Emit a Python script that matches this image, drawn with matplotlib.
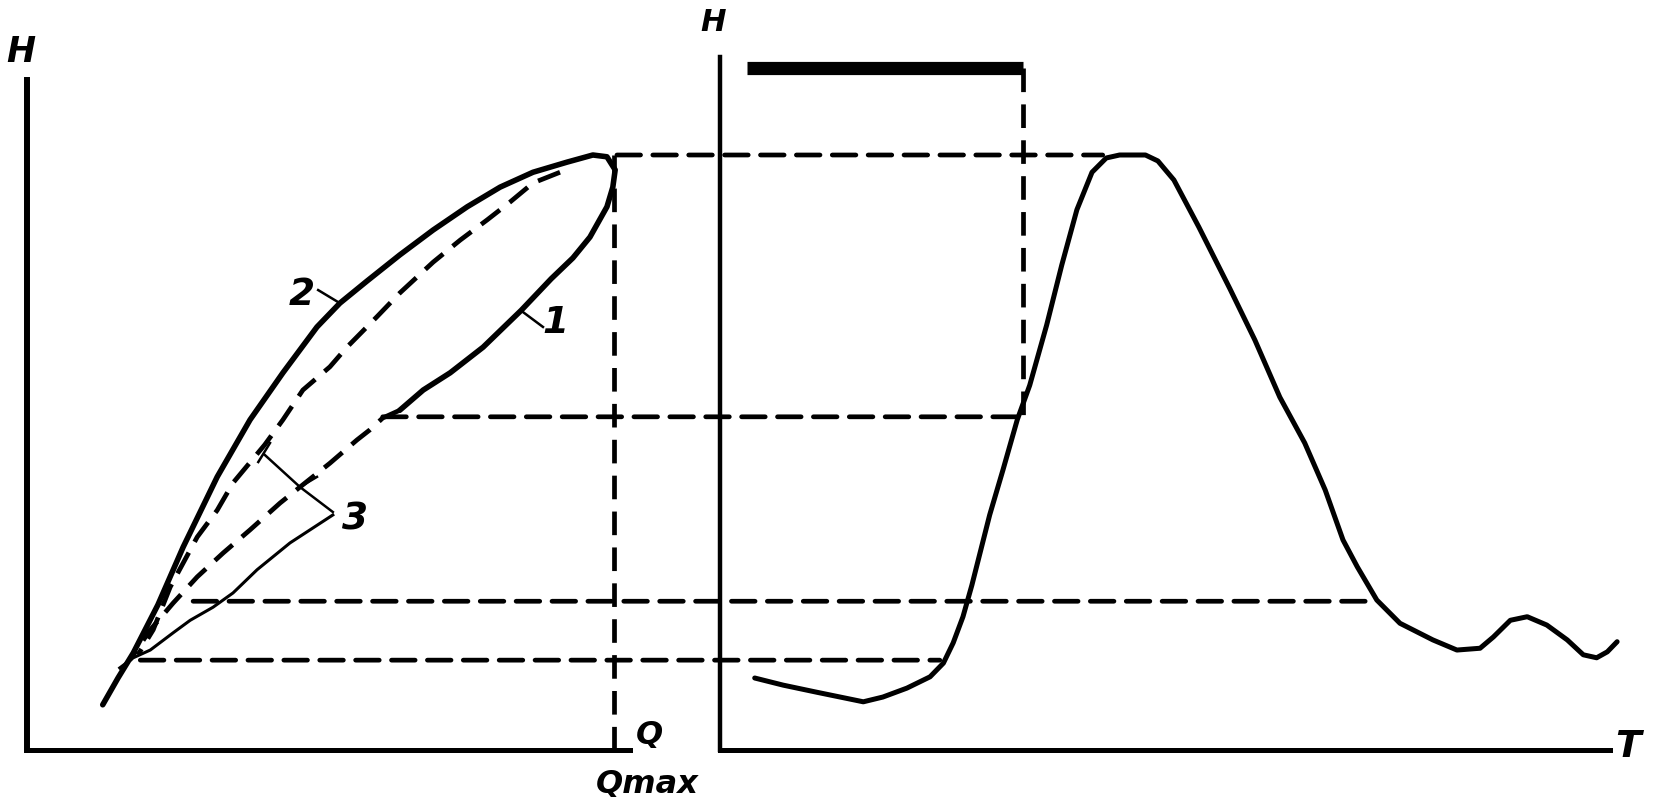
import matplotlib
matplotlib.use("Agg")
import matplotlib.pyplot as plt
from matplotlib.patches import ConnectionPatch

# Left panel: H(Q), Q in % of Qmax, H in % of Hmax
# curves 2 (rising) and 1 (falling) of the loop, solid
q_loop = [12.9, 15.5, 18.1, 22.3, 26.6, 32.4, 38.0, 43.6, 49.4, 53.3, 57.9, 63.5,
          69.2, 75.0, 80.6, 86.2, 92.0, 96.4, 98.8, 100.2, 99.8, 98.8, 95.9, 93.0,
          89.3, 84.2, 77.7, 72.1, 67.5, 63.5]
h_loop = [7.6, 12.1, 16.3, 24.4, 34.1, 45.9, 55.5, 63.4, 71.1, 75.1, 78.8, 83.2,
          87.4, 91.3, 94.6, 97.1, 98.8, 100.0, 99.7, 97.5, 94.6, 91.3, 86.2, 82.7,
          79.2, 73.9, 67.7, 63.4, 60.5, 57.1]

# curve 3, inner loop: upper dashed branch
q_inner_up = [90.8, 86.2, 82.3, 78.4, 73.8, 69.2, 63.5, 59.6, 54.5, 51.6, 47.0, 43.6,
              40.5, 35.1, 32.4, 29.0, 24.4, 21.5, 18.9]
h_inner_up = [97.1, 95.3, 92.1, 89.1, 85.7, 82.0, 76.8, 72.8, 67.7, 64.4, 60.5, 55.5,
              51.3, 44.9, 40.3, 35.8, 27.4, 20.2, 16.0]
# curve 3, lower dashed branch (continues curve 1)
q_inner_low = [63.5, 60.6, 58.4, 56.2, 51.6, 47.4, 43.1, 38.0, 33.4, 29.0, 24.9, 21.0, 17.5]
h_inner_low = [57.1, 55.8, 53.8, 52.1, 48.2, 44.9, 41.5, 37.0, 33.1, 29.1, 24.7, 20.2, 15.1]
# curve 3, thin solid branch
q_thin = [52.1, 44.8, 39.2, 35.1, 31.7, 27.8, 24.9, 21.0, 18.1, 15.8]
h_thin = [39.5, 34.8, 30.3, 26.4, 24.0, 21.8, 19.7, 16.8, 15.5, 13.8]

q_max = 100.0
h_max = 100.0

# Right panel: H(T)
t_curve = [3.9, 7.1, 10.9, 13.5, 16.1, 18.3, 21.0, 23.6, 25.1, 26.2, 27.3, 28.3,
           29.3, 30.3, 31.8, 33.4, 34.8, 36.7, 38.4, 40.1, 41.8, 43.4, 44.9, 47.8,
           49.2, 51.0, 53.8, 57.3, 60.1, 62.9, 65.7, 68.0, 70.0, 71.6, 73.8, 76.4,
           80.1, 82.8, 85.4, 86.9, 88.8, 90.7, 92.9, 95.2, 97.0, 98.5, 99.7, 100.8]
h_curve = [12.1, 10.9, 9.7, 8.9, 8.1, 8.9, 10.4, 12.3, 14.6, 18.0, 22.4, 27.7,
           33.6, 39.5, 47.1, 55.5, 61.3, 71.4, 81.5, 90.8, 97.1, 99.5, 100.0, 100.0,
           99.0, 95.8, 87.9, 77.5, 68.9, 59.3, 51.6, 43.7, 35.3, 30.8, 25.2, 21.3,
           18.5, 16.8, 17.1, 19.0, 21.8, 22.4, 21.0, 18.5, 16.0, 15.5, 16.5, 18.2]

# valve signal (thick bar) and its switching moment
t_valve = [3.0, 34.0]
h_valve = 114.6

# projection levels: H, left end on loop (Q), right end on curve (T)
h_levels = [100.0, 56.0, 25.0, 15.1]
q_levels = [100.5, 60.6, 28.3, 19.3]
t_levels = [43.0, 34.0, 73.8, 24.7]

DASH = (0, (5, 2.6))
INK = "black"

fig = plt.figure(figsize=(16.54, 8.06), dpi=100)
W, Hpx = 1654, 806
ax1 = fig.add_axes([27 / W, 56 / Hpx, 613 / W, 700 / Hpx])
ax2 = fig.add_axes([720 / W, 56 / Hpx, 905 / W, 700 / Hpx])
ax1.set_xlim(0, 613 / 5.87)
ax2.set_xlim(0, 905 / 8.9)
for ax in (ax1, ax2):
    ax.set_ylim(0, 700 / 5.95)
    ax.set_xticks([])
    ax.set_yticks([])
    ax.patch.set_alpha(0)
    ax.spines["top"].set_visible(False)
    ax.spines["right"].set_visible(False)
    ax.spines["left"].set_color(INK)
    ax.spines["bottom"].set_color(INK)
ax1.spines["left"].set_linewidth(4.3)
ax1.spines["bottom"].set_linewidth(3.6)
ax1.spines["left"].set_bounds(0, 112.6)
ax1.spines["bottom"].set_bounds(0, 102.7)
ax2.spines["left"].set_linewidth(3.2)
ax2.spines["bottom"].set_linewidth(3.6)
ax2.spines["left"].set_bounds(0, 116.5)
ax2.spines["bottom"].set_bounds(0, 100.0)

# left panel curves
ax1.plot(q_loop, h_loop, color=INK, lw=4.0, solid_capstyle="round", solid_joinstyle="round")
ax1.plot(q_inner_up, h_inner_up, color=INK, lw=3.4, ls=DASH)
ax1.plot(q_inner_low, h_inner_low, color=INK, lw=3.4, ls=DASH)
ax1.plot(q_thin, h_thin, color=INK, lw=2.2)
ax1.plot([q_max, q_max], [0, h_max], color=INK, lw=3.4, ls=DASH)

# leaders and curve numbers
ax1.plot([49.6, 53.3], [77.3, 75.1], color=INK, lw=1.8)
ax1.plot([84.5, 87.9], [73.6, 71.1], color=INK, lw=1.8)
ax1.plot([52.1, 46.5, 40.5], [40.0, 44.2, 49.6], color=INK, lw=1.8)
ax1.plot([46.5, 49.4], [44.2, 45.9], color=INK, lw=1.8)
ax1.plot([39.4, 41.4], [48.4, 51.6], color=INK, lw=1.8)
lab = dict(fontsize=27, fontstyle="italic", fontweight="bold", color=INK,
           ha="center", va="center", clip_on=False)
ax1.text(46.8, 76.5, "2", **lab)
ax1.text(90.1, 71.8, "1", **lab)
ax1.text(55.9, 38.7, "3", **lab)
ax1.text(-1.0, 117.3, "H", **dict(lab, fontsize=25))
ax1.text(106.0, 2.4, "Q", **dict(lab, fontsize=23))
ax1.text(96.9, -5.8, "Qmax", **dict(lab, fontsize=23, ha="left"))

# right panel
ax2.plot(t_curve, h_curve, color=INK, lw=3.6, solid_capstyle="round", solid_joinstyle="round")
ax2.plot(t_valve, [h_valve, h_valve], color=INK, lw=9.5, solid_capstyle="butt")
ax2.plot([t_valve[1], t_valve[1]], [h_valve, h_levels[1]], color=INK, lw=3.4, ls=DASH)
ax2.text(-0.8, 122.2, "H", **dict(lab, fontsize=22))
ax2.text(102.0, 0.5, "T", **lab)

# projection lines from the loop to the time curve
for h, q, t in zip(h_levels, q_levels, t_levels):
    con = ConnectionPatch(xyA=(q, h), coordsA="data", axesA=ax1,
                          xyB=(t, h), coordsB="data", axesB=ax2,
                          color=INK, lw=3.4, linestyle=DASH)
    fig.add_artist(con)

fig.savefig("out.png", dpi=100, facecolor="white")
